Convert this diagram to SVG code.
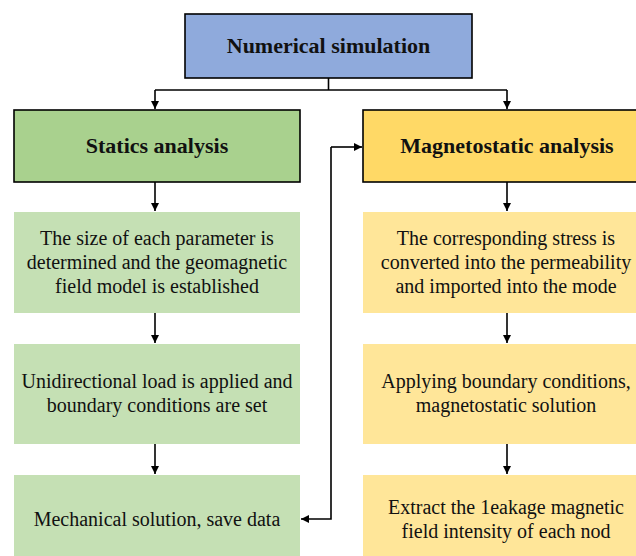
<svg xmlns="http://www.w3.org/2000/svg" width="636" height="556" viewBox="0 0 636 556">
<defs>
<marker id="ah" viewBox="0 0 10 10" refX="10" refY="5" markerWidth="8" markerHeight="8" markerUnits="userSpaceOnUse" orient="auto"><path d="M0,0 L10,5 L0,10 z" fill="#000"/></marker>
<style>
.hd{stroke:#000;stroke-width:1.6}
.t{font-family:"Liberation Serif","Times New Roman",serif;font-size:20px;fill:#111;text-anchor:middle}
.b{font-family:"Liberation Serif","Times New Roman",serif;font-size:22px;font-weight:bold;fill:#111;text-anchor:middle}
.c{fill:none;stroke:#000;stroke-width:1.6}
</style>
</defs>
<rect width="636" height="556" fill="#fff"/>
<g id="numerical"><rect class="hd" x="185" y="14" width="287" height="64" fill="#8FAADC"/><text class="b" x="328.5" y="53">Numerical simulation</text></g>
<g id="statics"><rect class="hd" x="14" y="110" width="286" height="72" fill="#A9D18E"/><text class="b" x="157" y="153">Statics analysis</text></g>
<g id="magneto"><rect class="hd" x="363" y="110" width="280" height="72" fill="#FFD966"/><text class="b" x="507" y="153">Magnetostatic analysis</text></g>
<g id="s1"><rect x="14" y="212" width="286" height="101" fill="#C5E0B4"/><text class="t" x="157" y="245">The size of each parameter is</text><text class="t" x="157" y="269">determined and the geomagnetic</text><text class="t" x="157" y="293">field model is established</text></g>
<g id="s2"><rect x="14" y="344" width="286" height="100" fill="#C5E0B4"/><text class="t" x="157" y="388">Unidirectional load is applied and</text><text class="t" x="157" y="412">boundary conditions are set</text></g>
<g id="s3"><rect x="14" y="475" width="286" height="81" fill="#C5E0B4"/><text class="t" x="157" y="526">Mechanical solution, save data</text></g>
<g id="m1"><rect x="363" y="212" width="280" height="101" fill="#FFE699"/><text class="t" x="506" y="245">The corresponding stress is</text><text class="t" x="506" y="269">converted into the permeability</text><text class="t" x="506" y="293">and imported into the mode</text></g>
<g id="m2"><rect x="363" y="344" width="280" height="100" fill="#FFE699"/><text class="t" x="506" y="388">Applying boundary conditions,</text><text class="t" x="506" y="412">magnetostatic solution</text></g>
<g id="m3"><rect x="363" y="475" width="280" height="81" fill="#FFE699"/><text class="t" x="506" y="514">Extract the 1eakage magnetic</text><text class="t" x="506" y="538">field intensity of each nod</text></g>
<g id="connectors">
<path class="c" d="M328.5,78 V90"/>
<path class="c" d="M155,90 H507"/>
<path class="c" d="M155,90 V109" marker-end="url(#ah)"/>
<path class="c" d="M507,90 V109" marker-end="url(#ah)"/>
<path class="c" d="M155,182 V211" marker-end="url(#ah)"/>
<path class="c" d="M155,313 V343" marker-end="url(#ah)"/>
<path class="c" d="M155,444 V474" marker-end="url(#ah)"/>
<path class="c" d="M507,182 V211" marker-end="url(#ah)"/>
<path class="c" d="M507,313 V343" marker-end="url(#ah)"/>
<path class="c" d="M507,444 V474" marker-end="url(#ah)"/>
<path class="c" d="M331,147 H362" marker-end="url(#ah)"/>
<path class="c" d="M331,147 V519 H301" marker-end="url(#ah)"/>
</g>
</svg>
